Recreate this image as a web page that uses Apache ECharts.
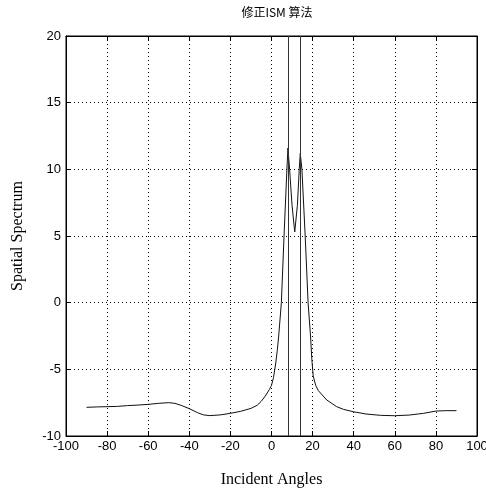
<!DOCTYPE html>
<html>
<head>
<meta charset="utf-8">
<script src="https://cdn.jsdelivr.net/npm/echarts@6/dist/echarts.min.js"></script>
<style>html,body{margin:0;padding:0;background:#fff}#c{width:486px;height:492px}</style>
</head>
<body>
<div id="c"></div>
<script>
const titleText = '修正ISM 算法';
const xName = 'Incident Angles';
const yName = 'Spatial Spectrum';
const angles = [-90,-85,-80,-75,-70,-65,-60,-55,-50,-47,-44,-40,-36,-33,-30,-25,-20,-15,-10,-7,-5,-3,-1,0,1,2,2.8,3.5,4.8,6.1,7.5,8,8.8,10,11.3,12.6,13.5,14,14.8,16.4,17.8,19,19.6,20.3,21.5,22.8,26.9,31.7,35,39.8,46,53,60,67,74,80,85,90];
const spectrum = [-7.85,-7.82,-7.8,-7.78,-7.72,-7.68,-7.63,-7.55,-7.5,-7.55,-7.7,-7.95,-8.25,-8.42,-8.47,-8.42,-8.3,-8.15,-7.93,-7.7,-7.4,-7.0,-6.5,-6.2,-5.6,-4.6,-3.6,-2.5,0,5,10,11.6,10,7.3,5.3,7.3,10,11.2,10,5,0,-2.5,-4.2,-5.5,-6.2,-6.6,-7.3,-7.8,-8.0,-8.18,-8.35,-8.45,-8.48,-8.43,-8.3,-8.13,-8.1,-8.1];
const markAngles = [8, 14];
const xTicks = {min: -100, max: 100, interval: 20};
const yTicks = {min: -10, max: 20, interval: 5};

const tickFont = {fontFamily: '"Liberation Sans Narrow","Arial Narrow","Liberation Sans",sans-serif', fontSize: 13, color: '#000'};
const chart = echarts.init(document.getElementById('c'), null, {renderer: 'canvas'});
const split = {show: true, lineStyle: {color: '#000', type: [1, 3], width: 1}};
chart.setOption({
  animation: false,
  backgroundColor: '#fff',
  title: {text: titleText, left: 272, top: 1, textAlign: 'center',
    textStyle: {fontFamily: '"Noto Sans CJK SC",sans-serif', fontSize: 12, fontWeight: 'normal', color: '#000'}},
  grid: {left: 66, right: 9, top: 36, bottom: 56, outerBoundsMode: 'none', containLabel: false,
    show: true, borderColor: '#000', borderWidth: 1, backgroundColor: '#fff'},
  xAxis: [
    {type: 'value', min: xTicks.min, max: xTicks.max, interval: xTicks.interval, position: 'bottom',
     axisLine: {show: true, onZero: false, lineStyle: {color: '#000'}},
     axisTick: {show: true, inside: true, length: 5, lineStyle: {color: '#000'}},
     axisLabel: Object.assign({margin: 4}, tickFont),
     splitLine: split,
     name: xName, nameLocation: 'middle', nameGap: 36,
     nameTextStyle: {fontFamily: '"Liberation Serif","Times New Roman",serif', fontSize: 16, color: '#000'}},
    {type: 'value', min: xTicks.min, max: xTicks.max, interval: xTicks.interval, position: 'top',
     axisLine: {show: true, onZero: false, lineStyle: {color: '#000'}},
     axisTick: {show: true, inside: true, length: 5, lineStyle: {color: '#000'}},
     axisLabel: {show: false}, splitLine: {show: false}}
  ],
  yAxis: [
    {type: 'value', min: yTicks.min, max: yTicks.max, interval: yTicks.interval, position: 'left',
     axisLine: {show: true, onZero: false, lineStyle: {color: '#000'}},
     axisTick: {show: true, inside: true, length: 5, lineStyle: {color: '#000'}},
     axisLabel: Object.assign({margin: 5}, tickFont),
     splitLine: split,
     name: yName, nameLocation: 'middle', nameGap: 40,
     nameTextStyle: {fontFamily: '"Liberation Serif","Times New Roman",serif', fontSize: 16, color: '#000'}},
    {type: 'value', min: yTicks.min, max: yTicks.max, interval: yTicks.interval, position: 'right',
     axisLine: {show: true, onZero: false, lineStyle: {color: '#000'}},
     axisTick: {show: true, inside: true, length: 5, lineStyle: {color: '#000'}},
     axisLabel: {show: false}, splitLine: {show: false}}
  ],
  series: [{
    type: 'line', xAxisIndex: 0, yAxisIndex: 0, symbol: 'none', smooth: false,
    lineStyle: {color: '#111', width: 1},
    data: angles.map((a, i) => [a, spectrum[i]]),
    markLine: {silent: true, symbol: 'none', label: {show: false},
      lineStyle: {color: '#333', type: 'solid', width: 1},
      data: markAngles.map(a => ({xAxis: a}))}
  }]
});
</script>
</body>
</html>
